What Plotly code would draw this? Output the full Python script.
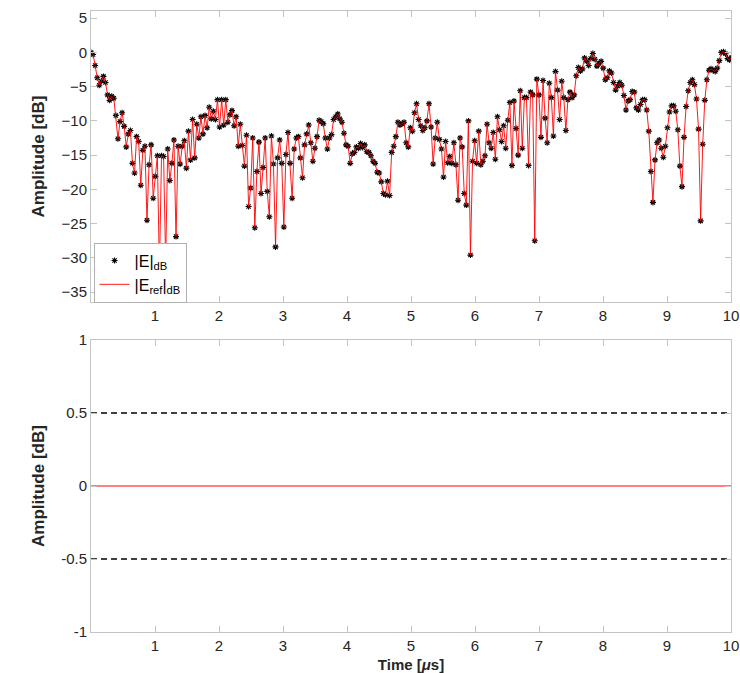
import numpy as np
import plotly.graph_objects as go

E_dB = [
    0.0, -0.3, -1.9, -3.7, -4.8, -4.2, -3.5, -4.4, -6.2, -7.0, -6.4, -6.7, -9.2, -12.6, -10.1, -8.8,
    -10.8, -13.8, -11.9, -11.4, -16.2, -17.6, -12.3, -13.0, -19.4, -14.3, -13.7, -24.5, -16.4, -13.5,
    -21.3, -18.1, -15.1, -32.0, -15.1, -15.2, -30.6, -14.1, -18.7, -16.2, -12.8, -26.9, -13.7, -16.3,
    -13.7, -12.9, -16.9, -11.5, -15.7, -9.8, -15.4, -10.5, -12.5, -9.4,
    -11.9, -9.2, -11.0, -8.0, -9.7, -8.6, -9.8, -6.9, -10.9, -6.9, -10.6, -6.9, -10.2, -9.1, -8.5,
    -10.7, -9.4, -13.7, -10.5, -13.6, -16.6, -12.1, -22.5, -19.8, -12.5, -25.6, -17.4, -13.1, -20.6,
    -16.8, -12.5, -20.3, -24.0, -12.2, -16.3, -28.4, -15.4, -12.8, -16.2, -25.5, -14.9, -11.7, -16.2,
    -21.3, -14.1, -12.5, -12.3, -15.4, -18.3, -13.5, -11.9, -10.6, -13.2,
    -15.9, -14.0, -12.3, -9.9, -10.1, -10.4, -12.5, -14.1, -12.5, -12.0, -9.8, -9.4, -9.0, -9.7,
    -10.2, -11.8, -13.5, -13.7, -16.2, -14.8, -14.6, -13.8, -14.0, -13.3, -13.9, -13.5, -14.5, -14.6,
    -15.1, -15.9, -16.2, -17.5, -17.6, -18.9, -20.6, -20.8, -18.8, -20.9, -14.6, -13.7, -12.3, -10.2,
    -10.6, -10.4, -10.2, -13.2, -13.8, -11.0, -11.5, -8.8, -7.5, -9.8, -10.7,
    -11.4, -11.0, -10.0, -7.5, -10.9, -16.3, -12.5, -10.2, -12.7, -14.1, -18.2, -13.0, -16.1, -15.2,
    -16.2, -13.2, -16.4, -21.6, -12.5, -13.8, -20.6, -22.3, -10.0, -29.6, -15.9, -12.9, -16.2, -11.5,
    -16.4, -15.9, -15.1, -10.5, -13.2, -14.0, -11.7, -15.6, -9.4, -11.3, -13.0, -10.7, -14.0, -9.9,
    -7.3, -16.5, -7.1, -11.1, -15.0, -5.6, -14.0, -6.6, -6.6, -16.5, -5.8, -6.2, -27.5,
    -3.9, -6.2, -12.4, -4.1, -9.6, -13.2, -4.5, -6.6, -12.2, -2.8, -5.5, -9.8, -4.2, -6.6, -11.4,
    -6.9, -5.8, -6.6, -6.2, -3.4, -2.2, -2.7, -2.4, -0.8, -1.3, -1.9, -0.9, -0.15, -1.0, -2.0, -1.6,
    -1.3, -2.3, -4.0, -3.7, -2.7, -3.0, -4.4, -5.5, -4.9, -4.4, -4.8, -6.3, -8.4, -7.1, -6.9, -5.7,
    -5.8, -8.1,
    -8.4, -7.6, -6.9, -6.9, -8.4, -11.5, -17.4, -21.9, -15.7, -13.2, -12.8, -14.0, -15.3, -13.7,
    -11.0, -8.7, -7.8, -7.8, -8.6, -11.3, -16.6, -19.6, -12.4, -7.9, -5.6, -4.4, -4.0, -4.7, -6.8,
    -11.2, -24.6, -13.4, -7.0, -4.0, -2.6, -2.4, -2.6, -2.8, -2.3, -1.2, 0.0, 0.1, -0.2, -0.9, -1.1,
    -0.7,
]
E_ref_dB = list(E_dB)          # reference field (identical)
dt_us = 0.0324                 # sample spacing [us]
tolerance_dB = 0.5
x_ticks = [1, 2, 3, 4, 5, 6, 7, 8, 9, 10]
y_ticks_top = [-35, -30, -25, -20, -15, -10, -5, 0, 5]
y_ticks_bot = [-1, -0.5, 0, 0.5, 1]
y_ticktext_bot = ["-1", "-0.5", "0", "0.5", "1"]

t_us = np.arange(len(E_dB)) * dt_us
diff_dB = np.array(E_dB) - np.array(E_ref_dB)

FONT = "Liberation Sans, Arial, sans-serif"
AX_COL = "#c4c4c4"
TXT_COL = "#262626"

fig = go.Figure()
fig.add_trace(go.Scatter(
    x=t_us, y=E_dB, mode="markers", name="|E|<sub>dB</sub>",
    marker=dict(symbol="asterisk-open", size=5, color="black",
                line=dict(color="black", width=1.1)),
    xaxis="x", yaxis="y"))
fig.add_trace(go.Scatter(
    x=t_us, y=E_ref_dB, mode="lines", name="|E<sub>ref</sub>|<sub>dB</sub>",
    line=dict(color="red", width=0.9), xaxis="x", yaxis="y"))

fig.add_trace(go.Scatter(
    x=[0, 10], y=[tolerance_dB, tolerance_dB], mode="lines",
    line=dict(color="black", width=1.6, dash="6px,4px"), showlegend=False,
    xaxis="x2", yaxis="y2"))
fig.add_trace(go.Scatter(
    x=[0, 10], y=[-tolerance_dB, -tolerance_dB], mode="lines",
    line=dict(color="black", width=1.6, dash="6px,4px"), showlegend=False,
    xaxis="x2", yaxis="y2"))
fig.add_trace(go.Scatter(
    x=t_us, y=diff_dB, mode="lines", line=dict(color="red", width=1),
    showlegend=False, xaxis="x2", yaxis="y2"))

axis_common = dict(
    showline=True, linecolor=AX_COL, linewidth=1, mirror="allticks",
    ticks="inside", ticklen=6, tickcolor=AX_COL, showgrid=False, zeroline=False,
    automargin=False,
    tickfont=dict(family=FONT, size=15, color=TXT_COL),
)

fig.update_layout(
    width=740, height=673,
    margin=dict(l=91, r=9, t=11, b=41),
    paper_bgcolor="white", plot_bgcolor="white",
    font=dict(family=FONT, color=TXT_COL),
    xaxis=dict(domain=[0, 1], anchor="y", range=[0, 10], tickvals=x_ticks, **axis_common),
    yaxis=dict(domain=[0.5314, 1], anchor="x", range=[-36.45, 6.05], tickvals=y_ticks_top,
               title=dict(text="<b>Amplitude [dB]</b>", standoff=12,
                          font=dict(family=FONT, size=17, color=TXT_COL)),
               **axis_common),
    xaxis2=dict(domain=[0, 1], anchor="y2", range=[0, 10], tickvals=x_ticks,
                title=dict(text="<b>Time [<i>μ</i>s]</b>", standoff=6,
                           font=dict(family=FONT, size=15, color=TXT_COL)),
                **axis_common),
    yaxis2=dict(domain=[0, 0.4702], anchor="x2", range=[-1, 1], tickvals=y_ticks_bot,
                ticktext=y_ticktext_bot,
                title=dict(text="<b>Amplitude [dB]</b>", standoff=12,
                           font=dict(family=FONT, size=17, color=TXT_COL)),
                **axis_common),
    legend=dict(x=0.004, y=0.627, xanchor="left", yanchor="top",
                bgcolor="white", bordercolor="#b0b0b0", borderwidth=1,
                font=dict(family=FONT, size=16, color="black"),
                itemwidth=30, tracegroupgap=0),
    showlegend=True,
)

fig.write_html("out.html")
